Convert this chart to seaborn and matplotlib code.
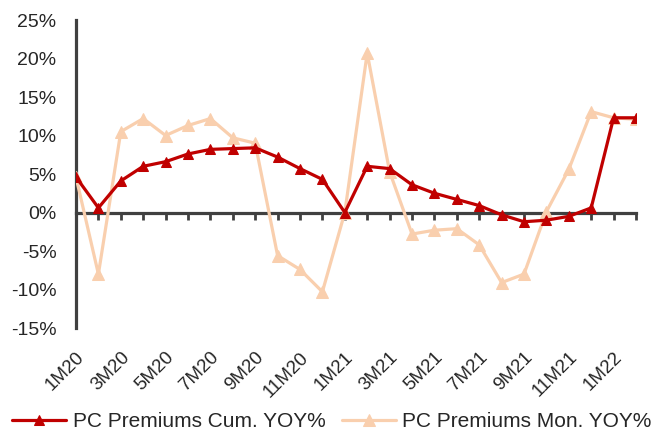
import numpy as np
import pandas as pd
import seaborn as sns
import matplotlib.pyplot as plt
from matplotlib.ticker import FuncFormatter

# month labels, 1M20 .. 2M22
months = ["1M20", "2M20", "3M20", "4M20", "5M20", "6M20", "7M20", "8M20", "9M20",
          "10M20", "11M20", "12M20", "1M21", "2M21", "3M21", "4M21", "5M21", "6M21",
          "7M21", "8M21", "9M21", "10M21", "11M21", "12M21", "1M22", "2M22"]

cum_yoy = [4.6, 0.6, 4.1, 6.0, 6.6, 7.6, 8.2, 8.3, 8.4, 7.2, 5.7, 4.3, 0.0,
           6.0, 5.7, 3.6, 2.5, 1.7, 0.9, -0.3, -1.2, -1.0, -0.5, 0.6, 12.3, 12.3]

mon_yoy = [4.6, -8.0, 10.5, 12.2, 10.0, 11.3, 12.2, 9.7, 9.0, -5.6, -7.4, -10.3, 0.0,
           20.7, 5.3, -2.8, -2.3, -2.1, -4.2, -9.1, -8.0, 0.1, 5.6, 13.1, 12.3, 12.1]

lbl_cum = "PC Premiums Cum. YOY%"
lbl_mon = "PC Premiums Mon. YOY%"

df = pd.DataFrame({"mes": months, lbl_cum: cum_yoy, lbl_mon: mon_yoy})
df["pos"] = np.arange(len(months))

sns.set_style("white")
plt.rcParams["font.family"] = ["Liberation Sans", "DejaVu Sans"]
plt.rcParams["font.size"] = 12

fig = plt.figure(figsize=(6.64, 4.37), dpi=100)
ax = fig.add_axes([76 / 664, 1 - 328 / 437, (636 - 76) / 664, (328 - 20) / 437])

gris = "#404040"
sns.lineplot(data=df, x="pos", y=lbl_cum, color="#C00000", lw=2.3, marker="^",
             markersize=6.5, markeredgecolor="#C00000", label=lbl_cum, ax=ax, zorder=4)
sns.lineplot(data=df, x="pos", y=lbl_mon, color="#F9CFAE", lw=2.3, marker="^",
             markersize=8, markeredgecolor="#F9CFAE", label=lbl_mon, ax=ax, zorder=3)

ax.set_xlim(0, len(months) - 1)
ax.set_ylim(-15, 25)
ax.set_yticks(np.arange(-15, 26, 5))
ax.yaxis.set_major_formatter(FuncFormatter(lambda v, p: f"{v:.0f}%"))
ax.set_xlabel("")
ax.set_ylabel("")

ax.set_xticks(df["pos"][::2])
ax.set_xticklabels(df["mes"][::2], rotation=45, ha="right", rotation_mode="anchor")
ax.tick_params(axis="x", length=0, pad=15, labelsize=13.5)
ax.tick_params(axis="y", direction="out", length=5, width=2, color=gris, labelsize=14, pad=9)

for s in ["top", "right", "bottom"]:
    ax.spines[s].set_visible(False)
ax.spines["left"].set_color(gris)
ax.spines["left"].set_linewidth(2.3)

# zero line with tick marks at every month
eje0 = ax.secondary_xaxis(15 / 40)
eje0.set_xticks(df["pos"])
eje0.tick_params(axis="x", direction="out", length=5, width=2, color=gris, labelbottom=False)
eje0.spines["bottom"].set_color(gris)
eje0.spines["bottom"].set_linewidth(2.3)

ax.get_legend().remove()
h, l = ax.get_legend_handles_labels()
fig.legend(h, l, loc="center", bbox_to_anchor=(0.5, 0.035), ncol=2, frameon=False,
           handlelength=2.6, columnspacing=0.8, handletextpad=0.3, fontsize=15)

plt.savefig("out.png", dpi=100)
